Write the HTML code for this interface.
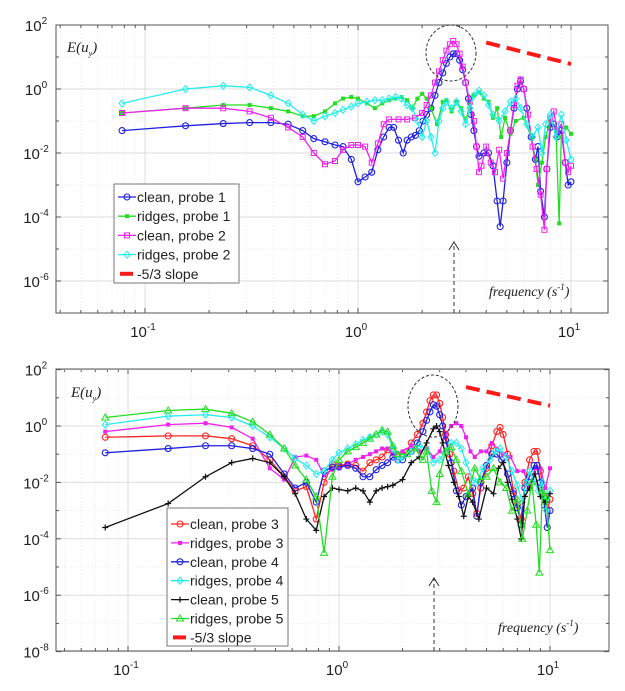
<!DOCTYPE html>
<html><head><meta charset="utf-8"><style>
body{margin:0;background:#fff}
svg{display:block}
text{font-family:"Liberation Sans",Arial,sans-serif;fill:#222}
.it{font-family:"Liberation Serif",serif;font-style:italic}
</style></head><body>
<svg id="chart" width="625" height="691" viewBox="0 0 625 691" xmlns="http://www.w3.org/2000/svg"></svg>
<script>
// ---- data (log10 of E) ----
const t1f=[0.078,0.155,0.233,0.31,0.39,0.47,0.55,0.62,0.7,0.78,0.85,0.93,1.0,1.08,1.16,1.24,1.32,1.4,1.47,1.55,1.63,1.7,1.78,1.86,1.94,2.02,2.1,2.2,2.3,2.4,2.5,2.6,2.7,2.8,2.9,3.0,3.1,3.2,3.3,3.4,3.5,3.6,3.7,3.9,4.1,4.3,4.5,4.65,4.8,5.0,5.2,5.4,5.6,5.8,6.0,6.2,6.5,6.8,7.0,7.2,7.5,7.7,8.0,8.3,8.6,9.0,9.4,9.7,10];
const t1v=[-1.3,-1.15,-1.08,-1.05,-1.05,-1.1,-1.3,-1.55,-1.65,-1.75,-1.8,-2.2,-2.9,-2.75,-2.6,-1.9,-1.5,-1.2,-1.2,-1.6,-2.0,-1.6,-1.5,-1.45,-1.3,-1.0,-0.8,-0.6,-0.2,0.2,0.5,0.8,1.0,1.1,1.1,0.9,0.6,0.2,-0.3,-0.8,-1.3,-1.8,-2.1,-2.0,-2.0,-2.4,-3.5,-4.3,-3.5,-2.3,-1.3,-0.6,0.0,0.25,0.0,-0.6,-1.5,-2.2,-1.8,-3.2,-4.0,-2.5,-1.2,-1.1,-1.5,-1.3,-2.3,-3.0,-2.9];
const t2f=[0.078,0.155,0.233,0.31,0.39,0.47,0.55,0.62,0.7,0.78,0.85,0.93,1.0,1.1,1.2,1.3,1.4,1.5,1.6,1.7,1.8,1.9,2.0,2.1,2.2,2.35,2.5,2.6,2.75,2.9,3.05,3.2,3.35,3.5,3.7,3.9,4.1,4.3,4.5,4.7,4.9,5.2,5.5,6.0,6.5,6.8,7.0,7.3,7.6,8.0,8.5,8.8,9.0,9.5,10];
const t2v=[-0.75,-0.6,-0.5,-0.5,-0.6,-0.7,-0.85,-0.85,-0.7,-0.45,-0.3,-0.25,-0.3,-0.45,-0.6,-0.45,-0.35,-0.3,-0.25,-0.35,-0.6,-0.3,-0.15,-0.3,-0.6,-1.1,-0.4,-0.35,-0.7,-0.4,-0.6,-1.0,-0.5,-0.2,-0.1,-0.3,-0.4,-0.9,-0.6,-1.5,-0.9,-1.4,-1.0,-0.9,-1.5,-2.2,-3.0,-2.3,-1.5,-1.0,-1.3,-4.2,-1.5,-1.2,-1.4];
const t3f=[0.078,0.155,0.233,0.31,0.39,0.47,0.55,0.62,0.7,0.78,0.85,0.93,1.0,1.08,1.16,1.24,1.32,1.4,1.55,1.7,1.85,2.0,2.1,2.2,2.3,2.4,2.5,2.6,2.7,2.8,2.9,3.0,3.1,3.2,3.35,3.5,3.6,3.7,3.8,4.0,4.2,4.4,4.6,4.8,5.0,5.2,5.4,5.6,5.8,6.0,6.3,6.6,6.9,7.2,7.5,7.7,8.0,8.3,8.6,9.0,9.4,9.7,10];
const t3v=[-0.75,-0.6,-0.6,-0.7,-0.9,-1.2,-1.5,-2.0,-2.35,-2.25,-1.9,-1.75,-1.75,-1.8,-2.3,-1.7,-1.1,-0.95,-0.95,-0.95,-0.9,-0.75,-0.5,-0.2,0.2,0.55,0.9,1.2,1.4,1.5,1.4,1.1,0.7,0.2,-0.4,-1.0,-1.8,-2.6,-2.4,-1.8,-2.3,-2.6,-1.9,-2.8,-2.0,-1.3,-0.5,0.1,0.3,0.0,-0.8,-1.8,-2.5,-3.3,-4.4,-2.5,-0.9,-0.7,-1.3,-1.1,-2.3,-2.6,-2.4];
const t4f=[0.078,0.155,0.233,0.31,0.39,0.47,0.55,0.62,0.7,0.78,0.85,0.93,1.0,1.1,1.2,1.3,1.4,1.5,1.6,1.7,1.8,1.9,2.0,2.1,2.2,2.3,2.4,2.5,2.6,2.75,2.9,3.05,3.2,3.35,3.5,3.7,3.9,4.1,4.3,4.6,4.9,5.2,5.5,5.8,6.2,6.6,7.0,7.3,7.6,8.0,8.5,9.0,9.5,10];
const t4v=[-0.45,0.0,0.1,0.05,-0.2,-0.45,-0.8,-1.0,-0.85,-0.75,-0.65,-0.55,-0.45,-0.4,-0.35,-0.35,-0.3,-0.25,-0.3,-0.5,-0.6,-1.0,-1.5,-1.0,-1.5,-2.0,-1.0,-0.6,-0.4,-0.6,-0.4,-0.7,-1.1,-0.6,-0.2,-0.05,-0.2,-0.5,-0.8,-1.0,-0.7,-0.4,-0.3,-0.6,-1.1,-1.5,-1.2,-2.0,-1.1,-0.8,-1.5,-0.8,-1.6,-2.2];

const b1f=[0.078,0.155,0.233,0.31,0.39,0.47,0.55,0.62,0.7,0.78,0.85,0.93,1.0,1.1,1.2,1.3,1.4,1.5,1.6,1.7,1.8,1.9,2.0,2.1,2.2,2.35,2.5,2.6,2.7,2.8,2.9,3.0,3.1,3.2,3.35,3.5,3.7,3.9,4.1,4.3,4.5,4.7,5.0,5.3,5.6,5.8,6.0,6.3,6.7,7.0,7.3,7.6,8.0,8.4,8.7,9.0,9.4,9.7,10];
const b1v=[-0.4,-0.35,-0.35,-0.45,-0.7,-1.2,-1.8,-2.3,-2.15,-3.3,-2.0,-1.35,-1.4,-1.35,-1.4,-1.6,-1.3,-1.2,-1.1,-0.85,-0.9,-1.1,-1.0,-0.9,-0.6,-0.3,0.1,0.5,0.9,1.1,1.1,0.8,0.3,-0.3,-1.0,-1.6,-2.3,-2.2,-1.8,-2.4,-3.1,-2.2,-1.5,-0.7,-0.2,-0.05,-0.3,-1.0,-2.3,-2.8,-3.3,-2.0,-1.2,-0.9,-0.9,-1.6,-2.5,-3.0,-2.6];
const b2f=[0.078,0.155,0.233,0.31,0.39,0.47,0.55,0.62,0.7,0.78,0.85,0.93,1.0,1.1,1.2,1.3,1.4,1.5,1.6,1.7,1.8,2.0,2.2,2.4,2.6,2.8,3.0,3.2,3.4,3.6,3.8,4.0,4.2,4.4,4.7,5.0,5.3,5.6,6.0,6.5,7.0,7.5,8.0,8.5,9.0,9.5,10];
const b2v=[-0.2,0.05,0.1,-0.05,-0.45,-1.5,-1.9,-1.1,-1.05,-1.2,-1.75,-1.55,-1.5,-1.35,-1.2,-1.1,-1.0,-0.9,-0.8,-0.8,-1.0,-0.9,-0.7,-0.9,-0.8,-1.1,-0.9,-0.3,0.0,0.1,0.0,-0.4,-0.9,-1.1,-0.9,-0.9,-0.6,-0.8,-1.0,-1.1,-1.6,-1.6,-2.2,-1.5,-1.5,-2.2,-1.5];
const b3f=[0.078,0.155,0.233,0.31,0.39,0.47,0.55,0.62,0.7,0.78,0.85,0.93,1.0,1.1,1.2,1.3,1.4,1.5,1.6,1.7,1.8,1.9,2.0,2.2,2.35,2.5,2.6,2.7,2.8,2.9,3.0,3.1,3.2,3.4,3.6,3.8,4.0,4.3,4.5,4.7,5.0,5.3,5.6,5.9,6.3,6.7,7.0,7.3,7.6,8.0,8.4,8.7,9.0,9.4,9.7,10];
const b3v=[-0.95,-0.8,-0.7,-0.7,-0.8,-1.0,-1.7,-2.2,-2.0,-2.7,-1.6,-1.45,-1.45,-1.4,-1.5,-1.8,-1.8,-1.55,-1.4,-1.3,-1.1,-1.2,-1.2,-0.9,-0.6,-0.2,0.2,0.5,0.75,0.7,0.4,0.0,-0.5,-1.3,-2.3,-2.8,-2.5,-2.2,-3.2,-2.0,-1.4,-1.0,-1.0,-1.2,-1.7,-2.4,-2.9,-3.5,-2.2,-1.8,-1.4,-1.4,-2.0,-2.8,-3.6,-3.0];
const b4f=[0.078,0.155,0.233,0.31,0.39,0.47,0.55,0.62,0.7,0.78,0.85,0.93,1.0,1.1,1.2,1.3,1.4,1.5,1.6,1.7,1.8,1.9,2.0,2.2,2.4,2.6,2.8,3.0,3.2,3.4,3.6,3.8,4.0,4.3,4.5,4.8,5.2,5.5,5.8,6.2,6.6,7.0,7.4,7.7,8.0,8.4,8.8,9.2,9.6,10];
const b4v=[0.05,0.35,0.4,0.3,0.0,-0.4,-0.8,-1.15,-1.4,-1.7,-1.6,-1.2,-0.95,-0.8,-0.65,-0.5,-0.4,-0.3,-0.2,-0.3,-0.8,-1.2,-1.1,-0.9,-0.7,-0.8,-1.3,-1.2,-0.9,-0.6,-0.6,-0.8,-1.3,-1.9,-2.0,-1.5,-1.2,-0.9,-0.8,-1.1,-1.6,-2.1,-2.7,-2.0,-1.6,-1.9,-2.3,-2.0,-3.0,-2.3];
const b5f=[0.078,0.155,0.233,0.31,0.39,0.47,0.55,0.62,0.7,0.78,0.85,0.93,1.0,1.1,1.2,1.3,1.4,1.5,1.6,1.7,1.8,2.0,2.2,2.4,2.6,2.8,2.9,3.0,3.1,3.3,3.5,3.7,3.9,4.1,4.3,4.6,5.0,5.4,5.7,6.0,6.3,6.6,7.0,7.3,7.6,8.0,8.5,9.0,9.5,10];
const b5v=[-3.6,-2.75,-1.8,-1.3,-1.15,-1.3,-1.8,-2.4,-3.3,-3.7,-2.5,-2.2,-2.25,-2.3,-2.2,-2.3,-2.7,-2.3,-2.2,-2.15,-2.1,-1.9,-1.3,-1.1,-0.6,-0.1,0.0,-0.2,-0.6,-1.4,-2.0,-2.5,-3.2,-2.5,-2.7,-3.3,-2.2,-2.4,-1.5,-1.3,-2.0,-2.6,-3.3,-4.0,-2.5,-2.2,-1.7,-2.5,-2.7,-2.4];
const b6f=[0.078,0.155,0.233,0.31,0.39,0.47,0.55,0.62,0.7,0.78,0.85,0.93,1.0,1.1,1.2,1.3,1.4,1.5,1.6,1.7,1.8,1.9,2.1,2.3,2.5,2.6,2.75,2.9,3.0,3.2,3.4,3.6,3.8,4.1,4.4,4.7,5.0,5.4,5.8,6.2,6.6,7.0,7.4,7.8,8.2,8.6,8.9,9.2,9.6,10];
const b6v=[0.3,0.55,0.6,0.45,0.15,-0.3,-0.8,-1.4,-1.9,-2.5,-4.5,-1.8,-1.2,-0.9,-0.75,-0.6,-0.45,-0.3,-0.15,-0.2,-0.7,-1.0,-1.0,-0.8,-1.2,-0.9,-2.3,-2.7,-1.7,-0.9,-0.75,-1.2,-1.6,-2.4,-1.5,-1.9,-1.8,-1.5,-2.0,-2.2,-3.0,-2.6,-4.0,-3.0,-2.0,-3.5,-5.2,-2.3,-2.5,-4.4];
const slopeF=[4.0,10];
const slopeTopV=[1.45,0.78];
const slopeBotV=[1.38,0.72];
const xTickLabels=["-1","0","1"];
const yTopTicks=[2,0,-2,-4,-6];
const yBotTicks=[2,0,-2,-4,-6,-8];

const NS="http://www.w3.org/2000/svg";
const svg=document.getElementById('chart');
function mk(tag,attrs,parent){const e=document.createElementNS(NS,tag);for(const k in attrs)e.setAttribute(k,attrs[k]);(parent||svg).appendChild(e);return e;}

function panel(P){
  const g=mk('g',{});
  
  
  const X=f=>P.x0+P.dx*Math.log10(f), Y=L=>P.y0-P.dy*L;
  // grid
  for(let d=-2;d<=1;d++)for(let m=1;m<10;m++){const x=X(m*Math.pow(10,d));if(x<=P.l||x>=P.r)continue;
    mk('line',{x1:x,x2:x,y1:P.t,y2:P.b,stroke:m==1?'#dedede':'#ececec','stroke-dasharray':m==1?'':'1,2','stroke-width':1},g);
    mk('line',{x1:x,x2:x,y1:P.b,y2:P.b-(m==1?5:3),stroke:'#555'},g);
    mk('line',{x1:x,x2:x,y1:P.t,y2:P.t+(m==1?5:3),stroke:'#555'},g);}
  for(let L=P.ymin;L<=P.ymax;L++){const y=Y(L);
    mk('line',{x1:P.l,x2:P.r,y1:y,y2:y,stroke:L%2==0?'#dedede':'#ececec','stroke-dasharray':L%2==0?'':'1,2'},g);
    mk('line',{x1:P.l,x2:P.l+(L%2==0?5:3),y1:y,y2:y,stroke:'#555'},g);
    mk('line',{x1:P.r,x2:P.r-(L%2==0?5:3),y1:y,y2:y,stroke:'#555'},g);}
  const box=mk('rect',{x:P.l,y:P.t,width:P.r-P.l,height:P.b-P.t,fill:'none',stroke:'#555','stroke-width':1},g);
  
  
  // tick labels
  xTickLabels.forEach((s,i)=>{const t=mk('text',{x:X(Math.pow(10,+s))-2,y:P.b+24,'font-size':15,'text-anchor':'middle'},g);
    
    
    t.innerHTML='10<tspan dy="-7" font-size="10">'+s+'</tspan>';});
  P.yt.forEach(L=>{const t=mk('text',{x:P.l-20,y:Y(L)+6,'font-size':15,'text-anchor':'middle'},g);
    
    
    t.innerHTML='10<tspan dy="-7" font-size="10">'+L+'</tspan>';});
  // series
  P.series.forEach(S=>{const sg=mk('g',{},g);
    
    
    const pts=S.f.map((f,i)=>[X(f),Y(S.v[i])]);
    mk('polyline',{points:pts.map(p=>p.join(',')).join(' '),fill:'none',stroke:S.c,'stroke-width':1.3},sg);
    pts.forEach(p=>marker(sg,S.m,p[0],p[1],S.c));});
  // slope
  const sl=mk('line',{x1:X(slopeF[0]),y1:Y(P.slope[0]),x2:X(slopeF[1]),y2:Y(P.slope[1]),stroke:'#ff1a1a','stroke-width':4,'stroke-dasharray':'14,7'},g);
  
  
  const c=mk('ellipse',{cx:P.circ[0],cy:P.circ[1],rx:P.circ[2],ry:P.circ[3],fill:'none',stroke:'#333','stroke-dasharray':'3,2','stroke-width':1},g);
  
  
  const a=P.arrow;
  const ar=mk('g',{},g);
  
  
  mk('line',{x1:a[0],x2:a[0],y1:a[2],y2:a[1],stroke:'#333','stroke-dasharray':'4,3'},ar);
  mk('polyline',{points:(a[0]-5)+','+(a[1]+8)+' '+a[0]+','+a[1]+' '+(a[0]+5)+','+(a[1]+8),fill:'none',stroke:'#333'},ar);
  const el=mk('text',{x:P.elab[0],y:P.elab[1],'font-size':15,class:'it'},g);
  
  
  el.innerHTML='E(u<tspan dy="4" font-size="8">y</tspan><tspan dy="-4">)</tspan>';
  const fl=mk('text',{x:P.flab[0],y:P.flab[1],'font-size':14,class:'it'},g);
  
  
  fl.innerHTML='frequency (s<tspan dy="-6" font-size="9">-1</tspan><tspan dy="6">)</tspan>';
  // legend
  const lg=mk('g',{},g);
  
  
  const L=P.leg;
  mk('rect',{x:L[0],y:L[1],width:L[2],height:L[3],fill:'#fff',stroke:'#777'},lg);
  const items=P.series.map(s=>[s.label,s.c,s.m]).concat([['-5/3 slope','#ff1a1a','slope']]);
  items.forEach((it,i)=>{const y=L[4]+i*L[5];
    const e=mk('g',{},lg);
    
    
    if(it[2]=='slope')mk('line',{x1:L[0]+6,x2:L[0]+19,y1:y,y2:y,stroke:it[1],'stroke-width':4},e);
    else{mk('line',{x1:L[0]+4,x2:L[0]+22,y1:y,y2:y,stroke:it[1],'stroke-width':1.3},e);marker(e,it[2],L[0]+13,y,it[1]);}
    const t=mk('text',{x:L[0]+23,y:y+5,'font-size':14},e);t.textContent=it[0];});
}
function marker(g,m,x,y,c){
  if(m=='o')mk('circle',{cx:x,cy:y,r:3,fill:'none',stroke:c,'stroke-width':1.1},g);
  else if(m=='sqf')mk('rect',{x:x-2,y:y-2,width:4,height:4,fill:c},g);
  else if(m=='sq')mk('rect',{x:x-2.5,y:y-2.5,width:5,height:5,fill:'none',stroke:c},g);
  else if(m=='d')mk('polygon',{points:`${x},${y-3.5} ${x+3},${y} ${x},${y+3.5} ${x-3},${y}`,fill:'none',stroke:c},g);
  else if(m=='+'){mk('path',{d:`M${x-3},${y}H${x+3}M${x},${y-3}V${y+3}`,stroke:c,'stroke-width':1.2},g);}
  else if(m=='tri')mk('polygon',{points:`${x},${y-3.5} ${x+3.5},${y+2.5} ${x-3.5},${y+2.5}`,fill:'none',stroke:c},g);
}
panel({name:'top-panel',l:56,r:608,t:25,b:313,x0:358,dx:213,y0:89,dy:32,ymin:-7,ymax:2,yt:yTopTicks,slope:slopeTopV,
  circ:[451,53,25,28],arrow:[454,242,313],elab:[67,52],flab:[489,296],leg:[114,184,125,99,197,19.2],
  series:[{name:'clean-probe-1',label:'clean, probe 1',f:t1f,v:t1v,c:'#2020e0',m:'o'},
   {name:'ridges-probe-1',label:'ridges, probe 1',f:t2f,v:t2v,c:'#22dd22',m:'sqf'},
   {name:'clean-probe-2',label:'clean, probe 2',f:t3f,v:t3v,c:'#ee22ee',m:'sq'},
   {name:'ridges-probe-2',label:'ridges, probe 2',f:t4f,v:t4v,c:'#22eeee',m:'d'}]});
panel({name:'bottom-panel',l:56,r:609,t:369,b:651,x0:339,dx:211,y0:426,dy:28.2,ymin:-8,ymax:2,yt:yBotTicks,slope:slopeBotV,
  circ:[433,406,25,31],arrow:[434,578,651],elab:[71,397],flab:[498,632],leg:[167,508,121,138,524,18.9],
  series:[{name:'clean-probe-3',label:'clean, probe 3',f:b1f,v:b1v,c:'#ff2222',m:'o'},
   {name:'ridges-probe-3',label:'ridges, probe 3',f:b2f,v:b2v,c:'#ee22ee',m:'sqf'},
   {name:'clean-probe-4',label:'clean, probe 4',f:b3f,v:b3v,c:'#2020e0',m:'o'},
   {name:'ridges-probe-4',label:'ridges, probe 4',f:b4f,v:b4v,c:'#22eeee',m:'d'},
   {name:'clean-probe-5',label:'clean, probe 5',f:b5f,v:b5v,c:'#111111',m:'+'},
   {name:'ridges-probe-5',label:'ridges, probe 5',f:b6f,v:b6v,c:'#22dd22',m:'tri'}]});
</script>
</body></html>
